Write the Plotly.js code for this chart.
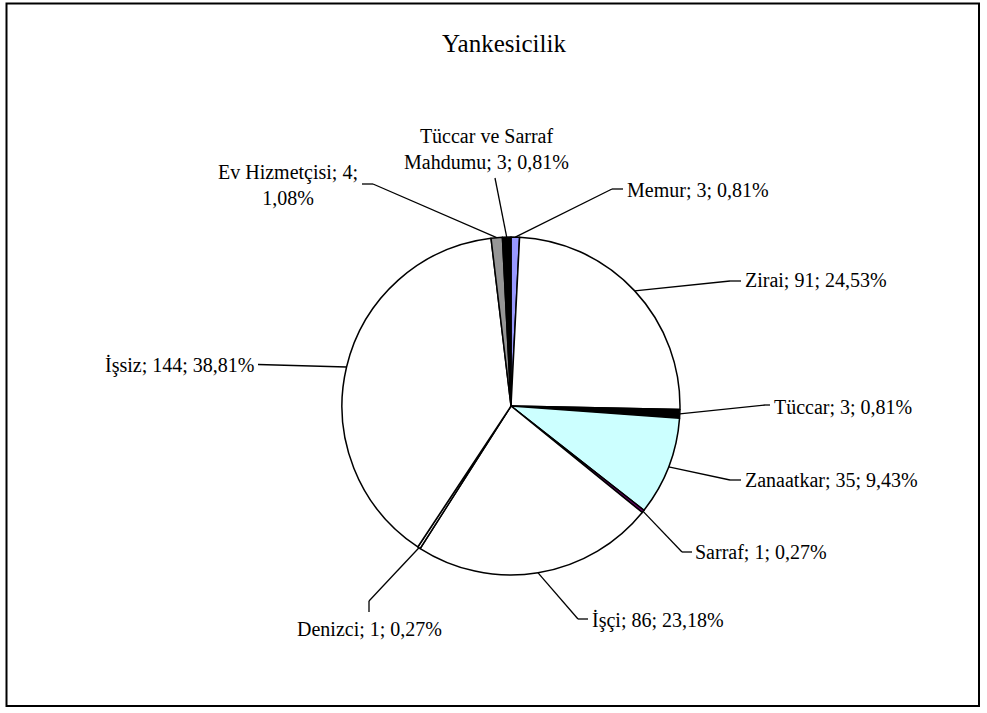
<!DOCTYPE html>
<html>
<head>
<meta charset="utf-8">
<script src="https://cdn.plot.ly/plotly-3.0.1.min.js"></script>
<style>html,body{margin:0;padding:0;background:#fff;}#chart{width:987px;height:713px;}</style>
</head>
<body>
<div id="chart"></div>
<script>
// ---- data ----
const categories = ['Memur', 'Zirai', 'Tüccar', 'Zanaatkar', 'Sarraf', 'İşçi', 'Denizci', 'İşsiz', 'Ev Hizmetçisi', 'Tüccar ve Sarraf Mahdumu'];
const counts = [3, 91, 3, 35, 1, 86, 1, 144, 4, 3];
const chartTitle = 'Yankesicilik';

// ---- styles / layout ----
const sliceColors = ['#9999FF', '#FFFFFF', '#000000', '#CCFFFF', '#660066', '#FFFFFF', '#FFFFFF', '#FFFFFF', '#969696', '#000000'];
const W = 987, H = 713;
const CX = 511, CY = 406, R = 169;           // pie geometry in px
const elbows = [[612,189],[730,281],[765,405],[730,480],[682,552],[578,619],[369,601],[258,364.5],[373,184],[495,178]];
const stubs  = [[623,189],[741,281],[770,405],[741,480],[692,552],[588,619],[369,612],null,[362,184],null];
const labelPos = [[625,190,'left'],[743,280,'left'],[772,406.5,'left'],[743,480,'left'],[693,551.5,'left'],[590,620,'left'],[369,629,'center'],[256,365,'right'],[288,185,'center'],[486,149,'center']];
const wrapAfter = [null,null,null,null,null,null,null,null,'Ev Hizmetçisi; 4;','Tüccar ve Sarraf'];
const FONT = '"Liberation Serif", "Times New Roman", "DejaVu Serif", serif';

const px = x => x / W;
const py = y => 1 - y / H;

const total = counts.reduce((a, b) => a + b, 0);
const shapes = [];
const annotations = [];
let cum = 0;
counts.forEach((v, i) => {
  const mid = (cum + v / 2) / total * 2 * Math.PI;
  cum += v;
  const ex = CX + R * Math.sin(mid), ey = CY - R * Math.cos(mid);
  const pts = [[ex, ey], elbows[i]];
  if (stubs[i]) pts.push(stubs[i]);
  for (let k = 0; k < pts.length - 1; k++) {
    shapes.push({type: 'line', xref: 'paper', yref: 'paper',
      x0: px(pts[k][0]), y0: py(pts[k][1]), x1: px(pts[k+1][0]), y1: py(pts[k+1][1]),
      line: {color: '#000', width: 1.3}});
  }
  const pct = (v / total * 100).toFixed(2).replace('.', ',');
  let txt = categories[i] + '; ' + v + '; ' + pct + '%';
  if (wrapAfter[i]) txt = txt.replace(wrapAfter[i] + ' ', wrapAfter[i] + '<br>');
  annotations.push({xref: 'paper', yref: 'paper', x: px(labelPos[i][0]), y: py(labelPos[i][1]),
    xanchor: labelPos[i][2], yanchor: 'middle', align: 'center', showarrow: false, text: txt,
    font: {family: FONT, size: 20, color: '#000'}});
});

// chart border
shapes.push({type: 'rect', xref: 'paper', yref: 'paper', x0: px(6.5), y0: py(3.5), x1: px(979), y1: py(706),
  line: {color: '#000', width: 2}, fillcolor: 'rgba(0,0,0,0)'});

const trace = {
  type: 'pie', labels: categories, values: counts, sort: false, direction: 'clockwise', rotation: 0,
  textinfo: 'none', hoverinfo: 'label+value+percent', showlegend: false,
  marker: {colors: sliceColors, line: {color: '#000', width: 1.5}},
  domain: {x: [px(CX - R), px(CX + R)], y: [py(CY + R), py(CY - R)]}
};

const layout = {
  width: W, height: H, margin: {l: 0, r: 0, t: 0, b: 0},
  paper_bgcolor: '#fff', plot_bgcolor: '#fff',
  font: {family: FONT, color: '#000'},
  title: {text: chartTitle, x: px(504), xanchor: 'center', y: py(43), yanchor: 'middle',
    font: {family: FONT, size: 25, color: '#000'}},
  shapes: shapes, annotations: annotations, showlegend: false
};

Plotly.newPlot('chart', [trace], layout, {displayModeBar: false, staticPlot: true});
</script>
</body>
</html>
